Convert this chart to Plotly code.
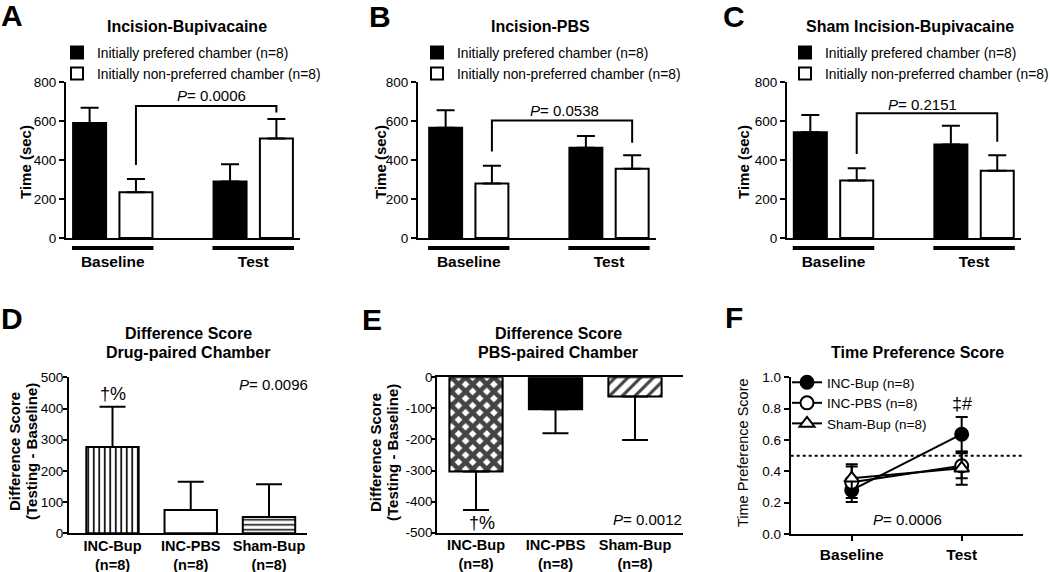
import plotly.graph_objects as go

FONT = "Liberation Sans, Arial, Helvetica, sans-serif"
W, H = 1050, 572

# ---------------- data ----------------
groups = ["Baseline", "Test"]
series_names = ["Initially prefered chamber (n=8)", "Initially non-preferred chamber (n=8)"]

A_pref = [590, 290]
A_pref_err = [78, 88]
A_non = [235, 510]
A_non_err = [68, 100]

B_pref = [565, 463]
B_pref_err = [90, 60]
B_non = [280, 355]
B_non_err = [90, 70]

C_pref = [542, 480]
C_pref_err = [89, 96]
C_non = [295, 345]
C_non_err = [63, 80]

top_titles = ["Incision-Bupivacaine", "Incision-PBS", "Sham Incision-Bupivacaine"]
top_p = ["0.0006", "0.0538", "0.2151"]
bracket_left = [375, 443, 431]
bracket_top = [677, 602, 640]
bracket_right = [643, 489, 494]
p_label_y = [733, 656, 687]
p_label_x = [0.70, 0.68, 0.63]

diff_groups = ["INC-Bup", "INC-PBS", "Sham-Bup"]
diff_n = ["(n=8)", "(n=8)", "(n=8)"]
D_vals = [277, 75, 52]
D_err = [129, 90, 105]
E_vals = [-303, -103, -62]
E_err = [124, 77, 140]
E_yticks = [0, -100, -200, -300, -400, -500]
D_p = "0.0096"
E_p = "0.0012"

F_names = ["INC-Bup (n=8)", "INC-PBS (n=8)", "Sham-Bup (n=8)"]
F_bup = [0.28, 0.637]
F_bup_err = [0.075, 0.11]
F_pbs = [0.33, 0.435]
F_pbs_err = [0.10, 0.08]
F_sham = [0.355, 0.42]
F_sham_err = [0.09, 0.105]
F_p = "0.0006"
chance_level = 0.5


# ---------------- helpers ----------------
def fx(p):
    return p / W


def fy(p):
    return 1 - p / H


def note(text, x, y, size, xref="paper", yref="paper", angle=0, **kw):
    if xref == "paper":
        x = fx(x)
    if yref == "paper":
        y = fy(y)
    return dict(xref=xref, yref=yref, x=x, y=y, text=text, showarrow=False,
                xanchor="center", yanchor="middle", textangle=angle,
                font=dict(family=FONT, size=size, color="black"), **kw)


fig = go.Figure()
layout = dict(
    width=W, height=H, margin=dict(l=0, r=0, t=0, b=0, autoexpand=False),
    paper_bgcolor="white", plot_bgcolor="white",
    font=dict(family=FONT, color="black", size=14),
    barmode="overlay", showlegend=True,
)
shapes = []
annotations = []

AX = dict(showgrid=False, zeroline=False, showline=True, linecolor="black",
          linewidth=2, ticks="outside", ticklen=5, tickwidth=2, tickcolor="black",
          tickfont=dict(family=FONT, size=13.5, color="black"), fixedrange=True,
          automargin=False)

HALF_SEP = 0.165
BAR_W = 0.235

top_panels = [
    # (xdom px, xrange, pref, pref_err, non, non_err)
    ((66, 300), [-0.333, 1.333], A_pref, A_pref_err, A_non, A_non_err),
    ((418, 656), [-0.362, 1.335], B_pref, B_pref_err, B_non, B_non_err),
    ((787, 1021), [-0.331, 1.334], C_pref, C_pref_err, C_non, C_non_err),
]
legend_left = [57, 417, 785]
ytitle_x = [25, 380, 743]
title_x = [187, 540, 910]
letters_top = [("A", 12, 15), ("B", 380, 17), ("C", 734, 17)]
gidx = list(range(len(groups)))

for i, (xd, xr, pref, pref_e, non, non_e) in enumerate(top_panels):
    n = i + 1
    xa = "x" if n == 1 else f"x{n}"
    ya = "y" if n == 1 else f"y{n}"
    lg = "legend" if n == 1 else f"legend{n}"
    fig.add_trace(go.Bar(
        x=gidx, y=pref, width=BAR_W, offset=-HALF_SEP - BAR_W / 2,
        name=series_names[0], xaxis=xa, yaxis=ya, legend=lg,
        marker=dict(color="black", line=dict(color="black", width=2)),
        error_y=dict(type="data", array=pref_e, arrayminus=[0] * len(pref_e), symmetric=False,
                     color="black", thickness=2, width=9),
    ))
    fig.add_trace(go.Bar(
        x=gidx, y=non, width=BAR_W, offset=HALF_SEP - BAR_W / 2,
        name=series_names[1], xaxis=xa, yaxis=ya, legend=lg,
        marker=dict(color="white", line=dict(color="black", width=2)),
        error_y=dict(type="data", array=non_e, arrayminus=[0] * len(non_e), symmetric=False,
                     color="black", thickness=2, width=9),
    ))
    xkey = "xaxis" if n == 1 else f"xaxis{n}"
    ykey = "yaxis" if n == 1 else f"yaxis{n}"
    layout[xkey] = dict(AX, domain=[fx(xd[0]), fx(xd[1])], anchor=ya, range=xr,
                        tickvals=gidx, ticktext=[f"<b>{g}</b>" for g in groups],
                        ticks="", ticklabelstandoff=8,
                        tickfont=dict(family=FONT, size=15.5, color="black"))
    layout[ykey] = dict(AX, domain=[fy(238), fy(82)], anchor=xa, range=[0, 800], dtick=200)
    layout[lg] = dict(x=fx(legend_left[i]), y=fy(37), xanchor="left", yanchor="top",
                      bgcolor="rgba(0,0,0,0)", font=dict(family=FONT, size=13.8),
                      tracegroupgap=0, itemclick=False, itemdoubleclick=False)
    # group underline bars
    for g in gidx:
        shapes.append(dict(type="line", xref=xa, yref="paper", x0=g - 0.29, x1=g + 0.29,
                           y0=fy(248), y1=fy(248), line=dict(color="black", width=4)))
    # bracket between non-preferred bars
    xl = gidx[0] + HALF_SEP
    xr_ = gidx[1] + HALF_SEP
    shapes.append(dict(type="path", xref=xa, yref=ya,
                       path=f"M {xl},{bracket_left[i]} L {xl},{bracket_top[i]} L {xr_},{bracket_top[i]} L {xr_},{bracket_right[i]}",
                       line=dict(color="black", width=2)))
    annotations.append(note(f"<i>P</i>= {top_p[i]}", p_label_x[i], p_label_y[i], 15, xref=xa, yref=ya))
    annotations.append(note(f"<b>{top_titles[i]}</b>", title_x[i], 27, 16))
    annotations.append(note("<b>Time (sec)</b>", ytitle_x[i], 162, 15, angle=-90))
    L, lx, ly = letters_top[i]
    annotations.append(note(f"<b>{L}</b>", lx, ly, 30))

# ---------------- D ----------------
didx = list(range(len(diff_groups)))
dticks = [f"<b>{g}</b><br><b>{m}</b>" for g, m in zip(diff_groups, diff_n)]
fig.add_trace(go.Bar(
    x=didx, y=D_vals, width=0.67, xaxis="x4", yaxis="y4", showlegend=False,
    marker=dict(color="white", line=dict(color="black", width=2),
                pattern=dict(shape=["|", "", "-"], size=[5.5, 8, 5], solidity=[0.3, 0.3, 0.3],
                             fgcolor="black", fgopacity=1, bgcolor="white", fillmode="overlay")),
    error_y=dict(type="data", array=D_err, arrayminus=[0] * len(D_err), symmetric=False,
                 color="black", thickness=2, width=13),
))
layout["xaxis4"] = dict(AX, domain=[fx(69), fx(306.7)], anchor="y4", range=[-0.556, 2.482],
                        tickvals=didx, ticktext=dticks, ticks="", ticklabelstandoff=-2,
                        tickfont=dict(family=FONT, size=14.5, color="black"))
layout["yaxis4"] = dict(AX, domain=[fy(533.3), fy(377.3)], anchor="x4", range=[0, 500], dtick=100,
                        ticklen=4, ticklabelstandoff=-3)
annotations += [
    note("†%", 0, 446, 18, xref="x4", yref="y4"),
    note(f"<i>P</i>= {D_p}", 2.06, 478, 15, xref="x4", yref="y4"),
    note("<b>Difference Score</b>", 188, 333, 16),
    note("<b>Drug-paired Chamber</b>", 188, 352, 16),
    note("<b>Difference Score</b>", 14, 452, 15, angle=-90),
    note("<b>(Testing - Baseline)</b>", 31, 452, 15, angle=-90),
    note("<b>D</b>", 12, 318, 30),
]

# ---------------- E ----------------
fig.add_trace(go.Bar(
    x=didx, y=E_vals, width=0.67, xaxis="x5", yaxis="y5", showlegend=False,
    marker=dict(color=["white", "black", "white"], line=dict(color="black", width=2),
                pattern=dict(shape=["x", "", "/"], size=[10, 8, 9], solidity=[0.7, 0.3, 0.35],
                             fgcolor="black", fgopacity=1, fillmode="overlay")),
    error_y=dict(type="data", array=[0] * len(E_err), arrayminus=E_err, symmetric=False,
                 color="black", thickness=2, width=13),
))
layout["xaxis5"] = dict(AX, domain=[fx(437.3), fx(683)], anchor="y5", range=[-0.487, 2.604],
                        tickvals=didx, ticktext=dticks, ticks="", ticklabelstandoff=-2, mirror=True,
                        tickfont=dict(family=FONT, size=14.5, color="black"))
layout["yaxis5"] = dict(AX, domain=[fy(532.7), fy(377.3)], anchor="x5", range=[-500, 0],
                        tickvals=E_yticks, ticktext=[str(v) for v in E_yticks],
                        ticklen=4, ticklabelstandoff=-4)
annotations += [
    note("†%", 0.08, -469, 18, xref="x5", yref="y5"),
    note(f"<i>P</i>= {E_p}", 2.16, -459, 15, xref="x5", yref="y5"),
    note("<b>Difference Score</b>", 558, 333, 16),
    note("<b>PBS-paired Chamber</b>", 558, 352, 16),
    note("<b>Difference Score</b>", 375, 453, 15, angle=-90),
    note("<b>(Testing - Baseline)</b>", 392, 453, 15, angle=-90),
    note("<b>E</b>", 372, 319, 30),
]

# ---------------- F ----------------
F_series = [
    (F_names[0], F_bup, F_bup_err, "circle", "black"),
    (F_names[1], F_pbs, F_pbs_err, "circle", "white"),
    (F_names[2], F_sham, F_sham_err, "triangle-up", "white"),
]
for name, vals, errs, sym, fill in F_series:
    fig.add_trace(go.Scatter(
        x=gidx, y=vals, name=name, mode="lines+markers", xaxis="x6", yaxis="y6",
        legend="legend4", cliponaxis=False,
        line=dict(color="black", width=2),
        marker=dict(symbol=sym, size=13, color=fill, line=dict(color="black", width=2)),
        error_y=dict(type="data", array=errs, symmetric=True, color="black", thickness=2, width=6),
    ))
layout["xaxis6"] = dict(AX, domain=[fx(790.7), fx(1022.7)], anchor="y6", range=[-0.555, 1.555],
                        tickvals=gidx, ticktext=[f"<b>{g}</b>" for g in groups], ticklabelstandoff=0,
                        tickfont=dict(family=FONT, size=15.5, color="black"))
layout["yaxis6"] = dict(AX, domain=[fy(534), fy(377.3)], anchor="x6", range=[0, 1.0], dtick=0.2,
                        tickformat=".1f")
layout["legend4"] = dict(x=fx(787), y=fy(367), xanchor="left", yanchor="top",
                         bgcolor="rgba(0,0,0,0)", font=dict(family=FONT, size=13.5),
                         tracegroupgap=0, itemclick=False, itemdoubleclick=False)
shapes.append(dict(type="line", xref="x6 domain", yref="y6", x0=0, x1=1,
                   y0=chance_level, y1=chance_level, line=dict(color="black", width=2, dash="dot")))
annotations += [
    note("‡#", 1.0, 0.83, 18, xref="x6", yref="y6"),
    note(f"<i>P</i>= {F_p}", 0.51, 0.09, 15, xref="x6", yref="y6"),
    note("<b>Time Preference Score</b>", 917, 353, 16),
    note("Time Preference Score", 743, 453, 14.5, angle=-90),
    note("<b>F</b>", 734, 317, 30),
]

layout["shapes"] = shapes
layout["annotations"] = annotations
fig.update_layout(**layout)
fig.write_html("out.html", config={"displayModeBar": False},
               post_script="document.body.style.margin='0px';document.body.style.padding='0px';")
